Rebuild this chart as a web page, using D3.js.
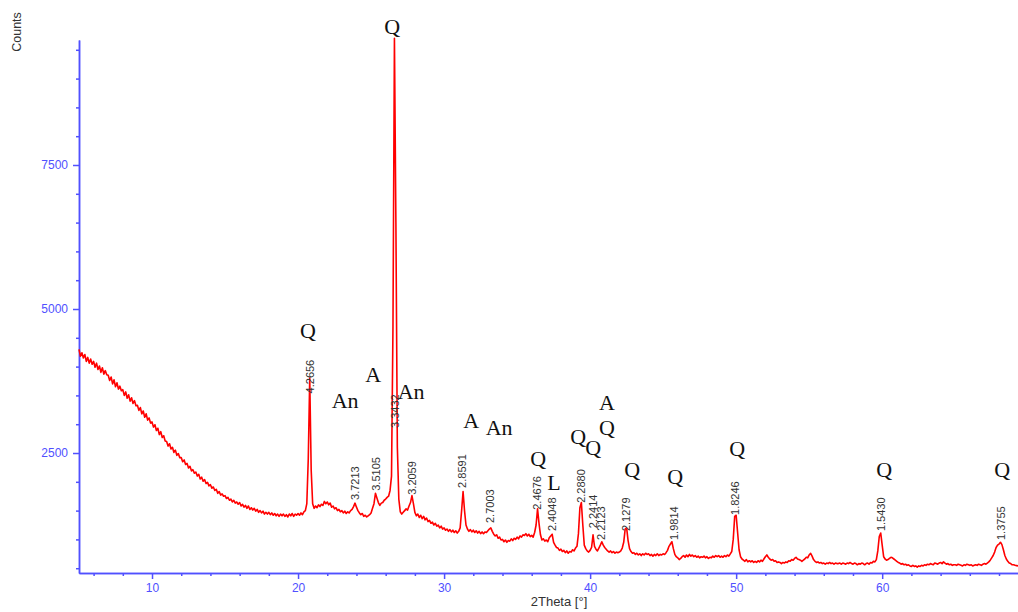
<!DOCTYPE html>
<html>
<head>
<meta charset="utf-8">
<script src="https://cdn.jsdelivr.net/npm/d3@7"></script>
<style>
  body { margin: 0; background: #fff; }
  svg { display: block; font-family: "Liberation Sans", Arial, sans-serif; }
</style>
</head>
<body>
<svg id="chart"></svg>
<script>
// scan start / step in 2Theta
var thetaStart = 5.0;
var thetaStep = 0.1;

// counts, one row per degree (x.0 .. x.9)
var counts = [
  4300,4180,4240,4150,4210,4090,4160,4060,4130,4040,
  4090,3990,4060,3950,4010,3900,3980,3870,3930,3860,
  3850,3760,3820,3700,3770,3650,3720,3610,3660,3580,
  3600,3500,3560,3450,3510,3400,3460,3360,3410,3320,
  3330,3240,3290,3180,3230,3120,3180,3070,3110,3020,
  3040,2950,2990,2890,2930,2820,2870,2770,2800,2710,
  2700,2620,2660,2570,2600,2510,2550,2460,2490,2420,
  2420,2350,2380,2300,2320,2240,2270,2190,2210,2150,
  2170,2100,2130,2050,2080,2010,2040,1970,1990,1930,
  1950,1890,1910,1850,1870,1800,1830,1770,1790,1750,
  1760,1710,1730,1680,1700,1650,1680,1630,1650,1610,
  1640,1580,1610,1560,1590,1540,1580,1520,1550,1510,
  1540,1490,1520,1470,1500,1460,1490,1440,1470,1440,
  1470,1430,1460,1420,1450,1410,1440,1400,1440,1410,
  1440,1400,1430,1390,1440,1410,1450,1400,1440,1420,
  1450,1420,1460,1430,1480,1500,1620,2400,3800,2200,
  1620,1540,1580,1550,1600,1570,1610,1590,1660,1620,
  1650,1600,1630,1560,1580,1530,1550,1500,1520,1480,
  1500,1460,1490,1450,1480,1460,1500,1520,1570,1630,
  1560,1500,1460,1430,1450,1400,1420,1390,1410,1430,
  1460,1540,1620,1800,1720,1640,1590,1630,1640,1680,
  1700,1730,1750,1850,2100,4700,9700,6500,2600,1700,
  1480,1440,1470,1500,1530,1510,1580,1640,1760,1620,
  1470,1410,1440,1380,1420,1360,1400,1340,1370,1310,
  1330,1280,1300,1250,1280,1230,1250,1200,1230,1180,
  1200,1160,1180,1140,1170,1130,1160,1120,1150,1110,
  1140,1200,1500,1830,1500,1250,1180,1140,1170,1130,
  1160,1120,1150,1110,1140,1100,1130,1100,1130,1120,
  1150,1180,1200,1140,1090,1060,1080,1020,1040,990,
  1000,960,990,950,980,970,1010,980,1020,1000,
  1040,1010,1060,1040,1080,1070,1100,1060,1090,1050,
  1070,1040,1120,1250,1530,1280,1080,990,1010,970,
  990,960,1030,1060,1090,950,900,860,850,810,
  830,790,810,770,800,760,790,780,820,800,
  850,880,1100,1550,1640,1250,900,840,800,780,
  810,860,1080,880,830,800,850,900,960,900,
  860,830,800,780,800,770,790,760,780,770,
  780,800,850,950,1180,1200,980,840,790,760,
  770,740,760,730,750,720,750,730,760,740,
  750,720,740,710,740,720,750,720,740,730,
  750,740,770,810,880,920,960,840,740,700,
  680,650,670,700,720,690,730,700,740,710,
  730,700,720,690,710,680,700,690,710,680,
  700,670,690,680,710,690,720,700,720,690,
  710,690,720,700,730,710,750,790,1000,1400,
  1420,1120,820,700,660,640,620,650,610,630,
  610,630,600,620,600,630,610,640,620,660,
  700,730,690,660,640,650,620,630,600,610,
  600,580,600,590,610,600,630,620,650,640,
  670,690,660,650,640,620,640,660,690,680,
  730,760,710,650,620,600,610,590,600,580,
  590,570,590,580,600,580,590,570,590,580,
  580,590,570,590,580,570,590,580,600,580,
  570,590,580,560,580,570,590,580,560,580,
  590,570,600,590,620,610,650,800,1050,1110,
  900,700,660,640,650,670,690,680,660,640,
  620,600,590,570,580,560,570,550,560,540,
  530,550,530,540,520,540,530,550,540,560,
  550,570,560,580,570,560,590,580,570,590,
  600,580,610,590,570,580,560,570,550,560,
  560,550,570,560,550,540,560,550,570,560,
  550,560,540,550,560,550,570,560,550,570,
  580,570,590,610,640,680,720,780,860,900,
  920,950,910,820,720,660,620,590,580,560,
  560,550,545,540
];

// d-spacing labels: text, 2Theta, counts where label starts
var dLabels = [
  ["4.2656", 20.81, 3500], ["3.7213", 23.89, 1650], ["3.5105", 25.35, 1810],
  ["3.3432", 26.64, 2900], ["3.2059", 27.81, 1740], ["2.8591", 31.26, 1860],
  ["2.7003", 33.15, 1250], ["2.4676", 36.38, 1480], ["2.4048", 37.37, 1110],
  ["2.2880", 39.35, 1600], ["2.2414", 40.20, 1160], ["2.2123", 40.75, 955],
  ["2.1279", 42.45, 1110], ["1.9814", 45.75, 955], ["1.8246", 49.94, 1390],
  ["1.5430", 59.90, 1110], ["1.3755", 68.11, 955]
];

// phase labels: text, 2Theta, counts (centre)
var phaseLabels = [
  ["Q", 26.44, 9900], ["Q", 20.68, 4635], ["An", 23.22, 3420], ["A", 25.14, 3870],
  ["An", 27.74, 3560], ["A", 31.85, 3070], ["An", 33.77, 2935], ["Q", 36.44, 2410],
  ["L", 37.53, 1980], ["Q", 39.18, 2780], ["Q", 40.21, 2600], ["A", 41.16, 3385],
  ["Q", 41.16, 2950], ["Q", 42.88, 2220], ["Q", 45.82, 2085], ["Q", 50.07, 2570],
  ["Q", 60.14, 2220], ["Q", 68.22, 2220]
];

var xMajor = [10, 20, 30, 40, 50, 60];
var yMajor = [2500, 5000, 7500];

var screen = {width: 1018, height: 612};
var axisColor = "#5050ff";

var svg = d3.select("#chart")
    .attr("width", screen.width)
    .attr("height", screen.height);

var xScale = d3.scaleLinear().domain([5, 69.3]).range([79, 1018]);
var yScale = d3.scaleLinear().domain([417, 9670]).range([573, 40]);

var points = counts.map(function(c, i){
    return [thetaStart + i * thetaStep, c];
});

// axes
var xMinor = d3.range(6, 70, 2).filter(function(v){ return xMajor.indexOf(v) < 0; });
var yMinor = d3.range(500, 9700, 500).filter(function(v){ return yMajor.indexOf(v) < 0; });

var gx = svg.append("g").attr("transform", "translate(0,573)");
gx.append("g").call(d3.axisBottom(xScale).tickValues(xMinor).tickSize(3).tickSizeOuter(0).tickFormat(""));
gx.append("g").call(d3.axisBottom(xScale).tickValues(xMajor).tickSize(6).tickSizeOuter(0).tickFormat(d3.format("d")));

var gy = svg.append("g").attr("transform", "translate(79,0)");
gy.append("g").call(d3.axisLeft(yScale).tickValues(yMinor).tickSize(3).tickSizeOuter(0).tickFormat(""));
gy.append("g").call(d3.axisLeft(yScale).tickValues(yMajor).tickSize(6).tickSizeOuter(0).tickFormat(d3.format("d")));

svg.selectAll(".domain, .tick line").attr("stroke", axisColor).attr("stroke-width", 1.5);
svg.selectAll(".tick text")
    .attr("fill", axisColor)
    .style("font-size", "12px")
    .style("font-family", "'Liberation Sans', Arial, sans-serif");
gx.selectAll(".tick text").attr("dy", "0.8em");
gy.selectAll(".tick text").attr("dx", "-2");

// trace
var line = d3.line()
    .x(function(d){ return xScale(d[0]); })
    .y(function(d){ return yScale(d[1]); });

svg.append("path")
    .datum(points)
    .attr("fill", "none")
    .attr("stroke", "#ff0000")
    .attr("stroke-width", 1.6)
    .attr("stroke-linejoin", "round")
    .attr("d", line);

// d labels
svg.append("g").selectAll("text")
    .data(dLabels)
    .enter()
    .append("text")
    .attr("transform", function(d){
        return "translate(" + (xScale(d[1]) + 4) + "," + (yScale(d[2]) - 2) + ") rotate(-90)";
    })
    .attr("fill", "#333")
    .style("font-size", "11px")
    .text(function(d){ return d[0]; });

// phase labels
svg.append("g").selectAll("text")
    .data(phaseLabels)
    .enter()
    .append("text")
    .attr("x", function(d){ return xScale(d[1]); })
    .attr("y", function(d){ return yScale(d[2]); })
    .attr("text-anchor", "middle")
    .attr("dominant-baseline", "central")
    .attr("fill", "#111")
    .style("font-family", "'Liberation Serif', 'Times New Roman', serif")
    .style("font-size", "22px")
    .text(function(d){ return d[0]; });

// axis titles
svg.append("text")
    .attr("transform", "translate(21,32) rotate(-90)")
    .attr("text-anchor", "middle")
    .attr("fill", "#333")
    .style("font-size", "12.5px")
    .text("Counts");

svg.append("text")
    .attr("x", 559)
    .attr("y", 606)
    .attr("text-anchor", "middle")
    .attr("fill", "#333")
    .style("font-size", "13px")
    .text("2Theta [°]");
</script>
</body>
</html>
